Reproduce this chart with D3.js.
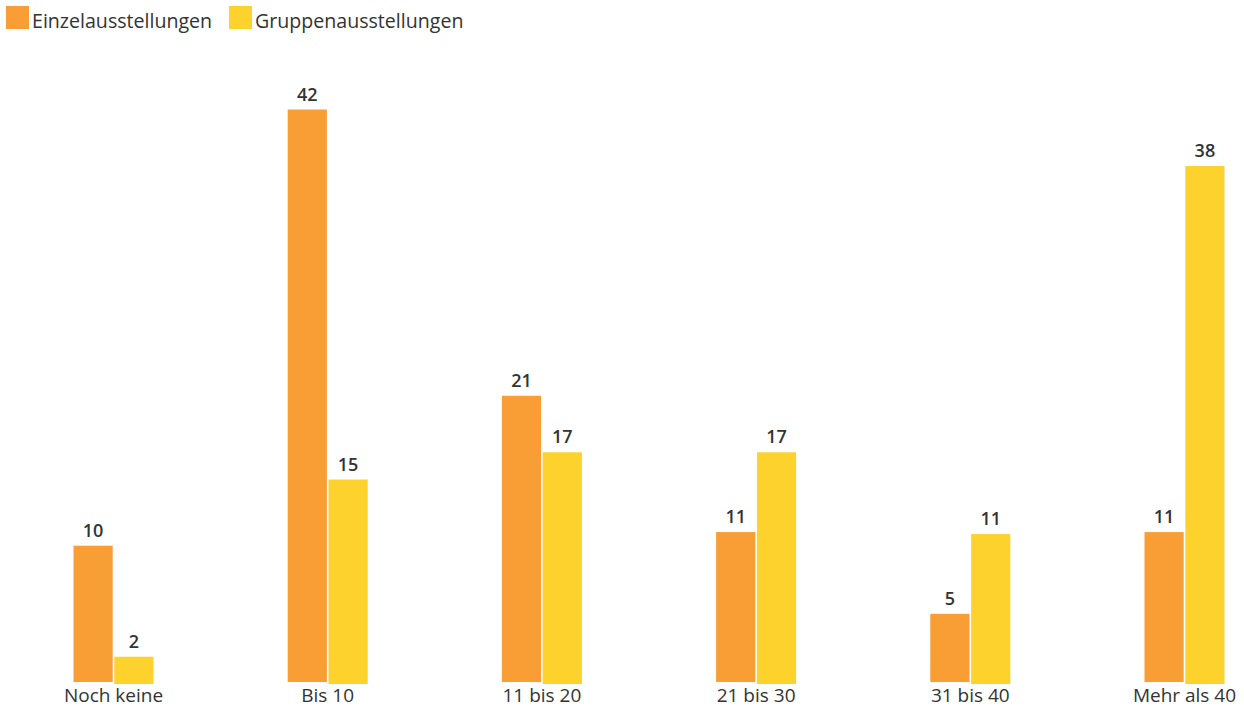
<!DOCTYPE html>
<html><head><meta charset="utf-8">
<script src="https://cdn.jsdelivr.net/npm/d3@7"></script>
<style>
body{margin:0;background:#fff;}
svg{display:block;font-family:"Open Sans",sans-serif;}
</style></head>
<body>
<svg id="c" width="1244" height="707"></svg>
<script>
const categories = ["Noch keine","Bis 10","11 bis 20","21 bis 30","31 bis 40","Mehr als 40"];
const seriesNames = ["Einzelausstellungen","Gruppenausstellungen"];
const einzel = [10,42,21,11,5,11];
const gruppen = [2,15,17,17,11,38];
const colors = ["#f99d35","#fed22c"];

const svg = d3.select("#c");
const x = d3.scalePoint().domain(categories).range([113.5,1184.5]);
const sub = d3.scaleBand().domain(seriesNames).range([-40,40]).paddingInner(0.04);
const h = d3.scaleLinear().domain([0,42]).range([0,572.5]);
const bases = [682,684];
const series = [einzel, gruppen];

series.forEach((vals,si)=>{
  const g = svg.append("g");
  g.selectAll("rect").data(vals).join("rect")
    .attr("x",(d,i)=>x(categories[i])+sub(seriesNames[si]))
    .attr("width",sub.bandwidth())
    .attr("y",d=>bases[si]-h(d))
    .attr("height",d=>h(d))
    .attr("fill",colors[si]);
  g.selectAll("text").data(vals).join("text")
    .attr("x",(d,i)=>x(categories[i])+sub(seriesNames[si])+sub.bandwidth()/2)
    .attr("y",d=>bases[si]-h(d)-9)
    .attr("text-anchor","middle")
    .attr("font-size",18).attr("font-weight",600).attr("fill","#333")
    .text(d=>d);
});

svg.append("g").selectAll("text").data(categories).join("text")
  .attr("x",d=>x(d)).attr("y",702)
  .attr("text-anchor","middle").attr("font-size",19).attr("fill","#333")
  .text(d=>d);

const legX = [6,229];
const lg = svg.append("g");
seriesNames.forEach((n,i)=>{
  lg.append("rect").attr("x",legX[i]).attr("y",6).attr("width",23).attr("height",23).attr("fill",colors[i]);
  lg.append("text").attr("x",legX[i]+26).attr("y",28).attr("font-size",19.6).attr("fill","#333").text(n);
});
</script>
</body></html>
